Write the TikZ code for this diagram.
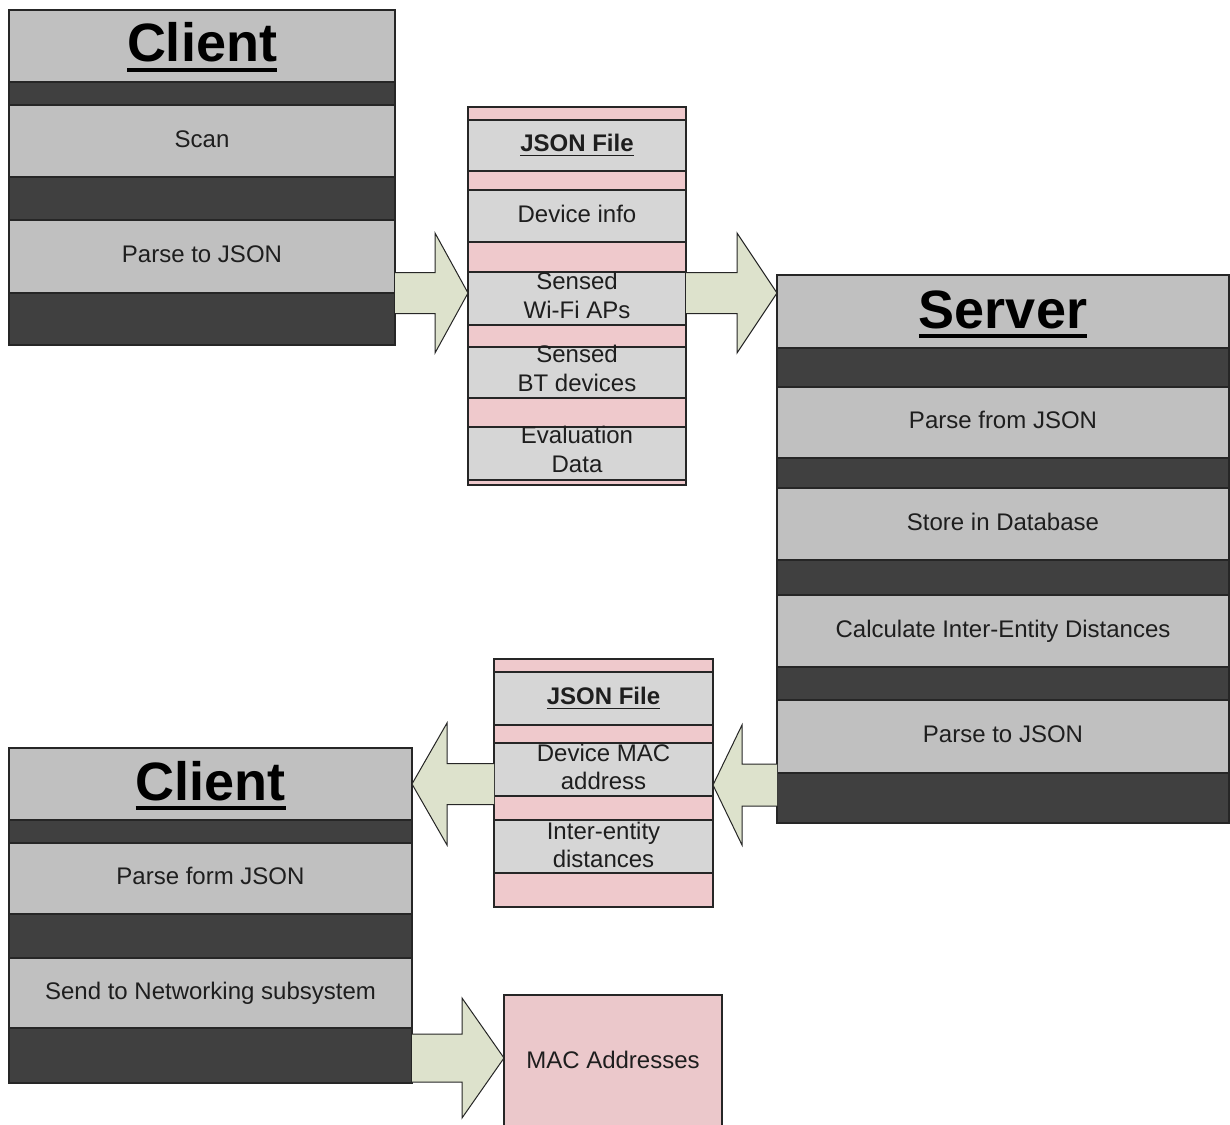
\documentclass[tikz,border=0pt]{standalone}
\usepackage{fontspec}
\setmainfont{Liberation Sans}
\usetikzlibrary{calc}

\definecolor{bandlight}{HTML}{C0C0C0}
\definecolor{banddark}{HTML}{404040}
\definecolor{filegray}{HTML}{D6D6D6}
\definecolor{filepink}{HTML}{EFC9CC}
\definecolor{macpink}{HTML}{EBC8CB}
\definecolor{arrowfill}{HTML}{DDE2CC}
\definecolor{edgec}{HTML}{262626}
\definecolor{textc}{HTML}{1E1E1E}

\newcommand\bodyfont{\fontsize{24}{29}\selectfont}
\newcommand\titlefont{\fontsize{54}{60}\selectfont\bfseries}
% heavy underline scaled with the current font
\newcommand\heavyul[1]{\setbox0=\hbox{#1}\leavevmode\rlap{\rule[-0.19em]{\wd0}{0.075em}}\box0}

% horizontal block arrow: #1 tail point, #2 tip point,
% #3 shaft half width, #4 head half width, #5 signed head length
\newcommand\blockarrow[5]{%
  \draw[blockarr] let \p1=(#1), \p2=(#2) in
    ({\x1},{\y2+#3}) -- ({\x2-(#5)},{\y2+#3}) -- ({\x2-(#5)},{\y2+#4}) -- ({\x2},{\y2})
    -- ({\x2-(#5)},{\y2-#4}) -- ({\x2-(#5)},{\y2-#3}) -- ({\x1},{\y2-#3});}

\begin{document}
\begin{tikzpicture}[x=1pt,y=-1pt,
  stackband/.style={draw=edgec, line width=1.5pt, anchor=north west,
    inner sep=0pt, outer sep=0pt, font=\bodyfont, text=textc,
    text height=17.5pt, text depth=5pt},
  lightband/.style={stackband, fill=bandlight},
  darkband/.style={stackband, fill=banddark},
  filerow/.style={draw=edgec, line width=1.2pt, anchor=north west,
    inner sep=0pt, outer sep=0pt, font=\bodyfont, text=textc, align=center},
  grayrow/.style={filerow, fill=filegray},
  pinkrow/.style={filerow, fill=filepink},
  oneline/.style={text height=17.5pt, text depth=5pt},
  twoline/.style={text depth=0pt},
  titletext/.style={font=\titlefont, text=black, anchor=base, inner sep=0pt},
  blockarr/.style={draw=edgec, line width=1pt, fill=arrowfill, line join=miter},
]
\clip (0,0) rectangle (1230,1124);
\fill[white] (0,0) rectangle (1230,1124);

% ---------- upper client ----------
\node[lightband, minimum width=386pt, minimum height=72pt] (c1t) at (9,10) {};
\node[darkband, minimum width=386pt, minimum height=23pt] (c1d1) at (9,82) {};
\node[lightband, minimum width=386pt, minimum height=72pt] (c1scan) at (9,105) {Scan};
\node[darkband, minimum width=386pt, minimum height=43pt] (c1d2) at (9,177) {};
\node[lightband, minimum width=386pt, minimum height=73pt] (c1parse) at (9,220) {Parse to JSON};
\node[darkband, minimum width=386pt, minimum height=52pt] (c1d3) at (9,293) {};
\node[titletext] (c1title) at ([yshift=-52pt]c1t.north) {\heavyul{Client}};

% ---------- first JSON file ----------
\node[pinkrow, minimum width=218pt, minimum height=13pt] (j1p0) at (468,107) {};
\node[grayrow, oneline, minimum width=218pt, minimum height=51pt] (j1head) at (468,120) {\bfseries\heavyul{JSON File}};
\node[pinkrow, minimum width=218pt, minimum height=19pt] (j1p1) at (468,171) {};
\node[grayrow, oneline, minimum width=218pt, minimum height=52pt] (j1dev) at (468,190) {Device info};
\node[pinkrow, minimum width=218pt, minimum height=30pt] (j1p2) at (468,242) {};
\node[grayrow, minimum width=218pt, minimum height=53pt] (j1wifi) at (468,272) {};
\node[pinkrow, minimum width=218pt, minimum height=22pt] (j1p3) at (468,325) {};
\node[grayrow, minimum width=218pt, minimum height=51pt] (j1bt) at (468,347) {};
\node[pinkrow, minimum width=218pt, minimum height=29pt] (j1p4) at (468,398) {};
\node[grayrow, minimum width=218pt, minimum height=53pt] (j1eval) at (468,427) {};
\node[pinkrow, minimum width=218pt, minimum height=5pt] (j1p5) at (468,480) {};
\node[font=\bodyfont, text=textc, align=center, twoline, yshift=3pt] (j1wifit) at (j1wifi.center) {Sensed\\Wi-Fi APs};
\node[font=\bodyfont, text=textc, align=center, twoline, yshift=4.5pt] (j1btt) at (j1bt.center) {Sensed\\BT devices};
\node[font=\bodyfont, text=textc, align=center, twoline, yshift=4.5pt] (j1evalt) at (j1eval.center) {Evaluation\\Data};

% ---------- server ----------
\node[lightband, minimum width=452pt, minimum height=73pt] (st) at (777,275) {};
\node[darkband, minimum width=452pt, minimum height=39pt] (sd1) at (777,348) {};
\node[lightband, minimum width=452pt, minimum height=71pt] (sparse) at (777,387) {Parse from JSON};
\node[darkband, minimum width=452pt, minimum height=30pt] (sd2) at (777,458) {};
\node[lightband, minimum width=452pt, minimum height=72pt] (sstore) at (777,488) {Store in Database};
\node[darkband, minimum width=452pt, minimum height=35pt] (sd3) at (777,560) {};
\node[lightband, minimum width=452pt, minimum height=72pt] (scalc) at (777,595) {Calculate Inter-Entity Distances};
\node[darkband, minimum width=452pt, minimum height=33pt] (sd4) at (777,667) {};
\node[lightband, minimum width=452pt, minimum height=73pt] (sjson) at (777,700) {Parse to JSON};
\node[darkband, minimum width=452pt, minimum height=50pt] (sd5) at (777,773) {};
\node[titletext] (stitle) at ([yshift=-53pt]st.north) {\heavyul{Server}};

% ---------- second JSON file ----------
\node[pinkrow, minimum width=219pt, minimum height=13pt] (j2p0) at (494,659) {};
\node[grayrow, oneline, minimum width=219pt, minimum height=53pt] (j2head) at (494,672) {\bfseries\heavyul{JSON File}};
\node[pinkrow, minimum width=219pt, minimum height=18pt] (j2p1) at (494,725) {};
\node[grayrow, minimum width=219pt, minimum height=53pt] (j2mac) at (494,743) {};
\node[pinkrow, minimum width=219pt, minimum height=24pt] (j2p2) at (494,796) {};
\node[grayrow, minimum width=219pt, minimum height=53pt] (j2dist) at (494,820) {};
\node[pinkrow, minimum width=219pt, minimum height=34pt] (j2p3) at (494,873) {};
\node[font=\fontsize{24}{27.5}\selectfont, text=textc, align=center, twoline, yshift=2.5pt] (j2mact) at (j2mac.center) {Device MAC\\address};
\node[font=\fontsize{24}{28}\selectfont, text=textc, align=center, twoline, yshift=2pt] (j2distt) at (j2dist.center) {Inter-entity\\distances};

% ---------- lower client ----------
\node[lightband, minimum width=403pt, minimum height=72pt] (c2t) at (9,748) {};
\node[darkband, minimum width=403pt, minimum height=23pt] (c2d1) at (9,820) {};
\node[lightband, minimum width=403pt, minimum height=71pt] (c2parse) at (9,843) {Parse form JSON};
\node[darkband, minimum width=403pt, minimum height=44pt] (c2d2) at (9,914) {};
\node[lightband, minimum width=403pt, minimum height=70pt] (c2send) at (9,958) {Send to Networking subsystem};
\node[darkband, minimum width=403pt, minimum height=55pt] (c2d3) at (9,1028) {};
\node[titletext] (c2title) at ([yshift=-52pt]c2t.north) {\heavyul{Client}};

% ---------- result ----------
\node[filerow, oneline, fill=macpink, minimum width=218pt, minimum height=135pt] (mac) at (504,995) {MAC Addresses};

% ---------- data flow ----------
\coordinate (lvA) at (0,293);
\coordinate (lvB) at (0,785);
\coordinate (lvC) at (0,784);
\coordinate (lvD) at (0,1058);
\blockarrow{c1d3.east |- lvA}{j1wifi.west |- lvA}{20.5pt}{60pt}{33pt}
\blockarrow{j1wifi.east |- lvA}{st.west |- lvA}{20.5pt}{60pt}{40pt}
\blockarrow{sd5.west |- lvB}{j2mac.east |- lvB}{21pt}{60pt}{-29pt}
\blockarrow{j2mac.west |- lvC}{c2d1.east |- lvC}{20.5pt}{61pt}{-35pt}
\blockarrow{c2d3.east |- lvD}{mac.west |- lvD}{24pt}{60pt}{42pt}
\end{tikzpicture}
\end{document}
